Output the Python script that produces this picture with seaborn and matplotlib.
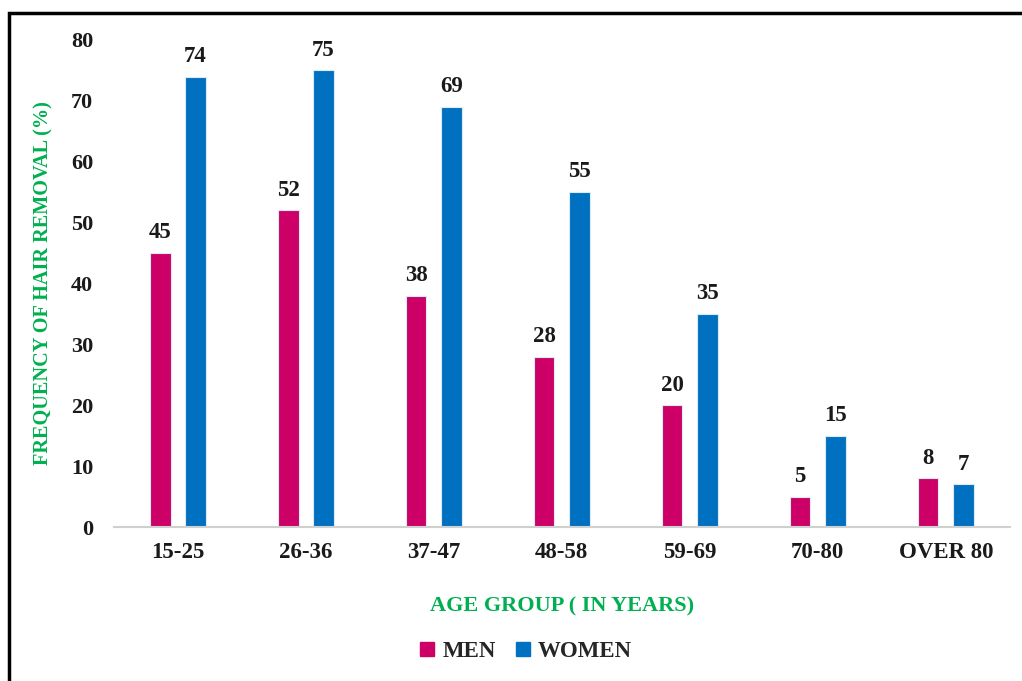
import matplotlib
matplotlib.use("Agg")
import matplotlib.pyplot as plt
import matplotlib.patches as mpatches
import seaborn as sns
import pandas as pd

# data
grupos = ["15-25", "26-36", "37-47", "48-58", "59-69", "70-80", "OVER 80"]
hombres = [45, 52, 38, 28, 20, 5, 8]
mujeres = [74, 75, 69, 55, 35, 15, 7]
series = ["MEN", "WOMEN"]
colores = {"MEN": "#CC0066", "WOMEN": "#0070C0"}

df = pd.DataFrame({
    "grupo": grupos * 2,
    "valor": hombres + mujeres,
    "sexo": ["MEN"] * len(grupos) + ["WOMEN"] * len(grupos),
})

sns.set_style("white")
plt.rcParams["font.family"] = ["Liberation Serif", "DejaVu Serif"]
plt.rcParams["font.weight"] = "bold"

fig = plt.figure(figsize=(10.22, 6.81), dpi=100)
ax = fig.add_axes([0.1115, 0.2261, 0.8765, 0.7152])

sns.barplot(data=df, x="grupo", y="valor", hue="sexo", order=grupos,
            hue_order=series, palette=colores, saturation=1, width=0.55,
            gap=0.42, edgecolor="#DDEBF7", linewidth=0.8, legend=False, ax=ax)

for cont in ax.containers:
    ax.bar_label(cont, fmt="%d", padding=7, fontsize=16.5, fontweight="bold",
                 color="#1a1a1a")

ax.set_ylim(0, 80)
ax.set_xlim(-0.5, len(grupos) - 0.5)
ax.set_yticks(range(0, 81, 10))
ax.tick_params(axis="y", length=0, pad=15, labelsize=16)
ax.tick_params(axis="x", length=0, pad=11, labelsize=16.5)
for lab in ax.get_xticklabels() + ax.get_yticklabels():
    lab.set_fontweight("bold")
    lab.set_color("#1a1a1a")

for s in ["top", "right", "left"]:
    ax.spines[s].set_visible(False)
ax.spines["bottom"].set_color("#D0D0D0")
ax.spines["bottom"].set_linewidth(1.5)

ax.set_xlabel("AGE GROUP ( IN YEARS)", fontsize=16, fontweight="bold",
              color="#00B050")
ax.xaxis.set_label_coords(0.5, -0.142)
ax.set_ylabel("FREQUENCY OF HAIR REMOVAL (%)", fontsize=14.6,
              fontweight="bold", color="#00B050")
ax.yaxis.set_label_coords(-0.0675, 0.5)

handles = [mpatches.Patch(color=colores[s], label=s) for s in series]
fig.legend(handles=handles, loc="center", bbox_to_anchor=(0.515, 0.043),
           ncol=2, frameon=False, prop={"weight": "bold", "size": 16.5},
           handlelength=0.6, handleheight=0.6, handletextpad=0.35,
           columnspacing=0.9)

# frame around the figure (cut off at right and bottom)
marco = mpatches.Rectangle((9 / 1022, -0.05), 1.1, 1 - 13 / 681 + 0.05,
                           transform=fig.transFigure, fill=False,
                           edgecolor="black", linewidth=2.5)
fig.patches.append(marco)

fig.savefig("out.png", dpi=100)
